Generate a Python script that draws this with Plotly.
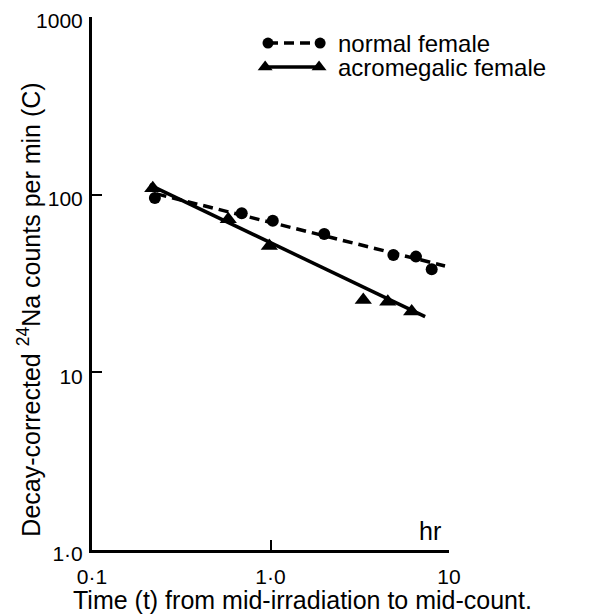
import plotly.graph_objects as go

# Data (t in hr, C in counts/min)
normal_t = [0.225, 0.69, 1.03, 2.0, 4.88, 6.53, 8.0]
normal_c = [95.7, 78.5, 71.4, 60.1, 45.8, 44.8, 38.0]
acro_t = [0.219, 0.58, 0.985, 3.31, 4.54, 6.18]
acro_c = [108.6, 72.8, 51.4, 25.5, 25.0, 22.0]

# Fitted lines (end points)
normal_fit_t = [0.23, 9.5]
normal_fit_c = [101.0, 39.7]
acro_fit_t = [0.21, 7.35]
acro_fit_c = [113.5, 20.6]

x_tickvals = [0.1, 1, 10]
x_ticktext = ["0·1", "1·0", "10"]
y_tickvals = [1, 10, 100, 1000]
y_ticktext = ["1·0", "10", "100", "1000"]

series_names = ["normal female", "acromegalic female"]

FONT = "Liberation Sans"
BLACK = "black"

fig = go.Figure()

# fitted lines
fig.add_trace(go.Scatter(x=normal_fit_t, y=normal_fit_c, mode="lines",
                         line=dict(color=BLACK, width=3.5, dash="10px,6px"),
                         showlegend=False, hoverinfo="skip"))
fig.add_trace(go.Scatter(x=acro_fit_t, y=acro_fit_c, mode="lines",
                         line=dict(color=BLACK, width=3.5),
                         showlegend=False, hoverinfo="skip"))
# data points
fig.add_trace(go.Scatter(x=normal_t, y=normal_c, mode="markers",
                         marker=dict(symbol="circle", size=12, color=BLACK),
                         name=series_names[0], showlegend=False))
fig.add_trace(go.Scatter(x=acro_t, y=acro_c, mode="markers",
                         marker=dict(symbol="triangle-up", size=15, color=BLACK),
                         name=series_names[1], showlegend=False))

# custom legend on an overlay axis spanning the plot area (0..1)
leg_y = [0.951, 0.906]
fig.add_trace(go.Scatter(x=[0.493, 0.639], y=[leg_y[0]] * 2, xaxis="x2", yaxis="y2",
                         mode="lines+markers",
                         line=dict(color=BLACK, width=3.5, dash="10px,6px"),
                         marker=dict(symbol="circle", size=11, color=BLACK),
                         showlegend=False, hoverinfo="skip"))
fig.add_trace(go.Scatter(x=[0.485, 0.636], y=[leg_y[1]] * 2, xaxis="x2", yaxis="y2",
                         mode="lines+markers",
                         line=dict(color=BLACK, width=3.5),
                         marker=dict(symbol="triangle-up", size=13, color=BLACK),
                         showlegend=False, hoverinfo="skip"))

annotations = [
    dict(text=series_names[0], x=0.683, y=leg_y[0], xref="paper", yref="paper",
         xanchor="left", yanchor="middle", showarrow=False,
         font=dict(family=FONT, size=24, color=BLACK)),
    dict(text=series_names[1], x=0.683, y=leg_y[1], xref="paper", yref="paper",
         xanchor="left", yanchor="middle", showarrow=False,
         font=dict(family=FONT, size=24, color=BLACK)),
    dict(text="hr", x=0.947, y=0.036, xref="paper", yref="paper",
         xanchor="center", yanchor="middle", showarrow=False,
         font=dict(family=FONT, size=25, color=BLACK)),
    dict(text="Time (t) from mid-irradiation to mid-count.", x=0.59, y=-0.094,
         xref="paper", yref="paper", xanchor="center", yanchor="middle",
         showarrow=False, font=dict(family=FONT, size=25, color=BLACK)),
    dict(text="Decay-corrected <sup>24</sup>Na counts per min (C)", x=-0.175, y=0.45,
         xref="paper", yref="paper", xanchor="center", yanchor="middle",
         textangle=-90, showarrow=False,
         font=dict(family=FONT, size=25, color=BLACK)),
]

axis_common = dict(type="log", showgrid=False, zeroline=False, showline=True,
                   linecolor=BLACK, linewidth=3, ticks="inside", ticklen=10,
                   tickwidth=2, tickcolor=BLACK, mirror=False, automargin=False,
                   ticklabeloverflow="allow",
                   tickfont=dict(family=FONT, size=21, color=BLACK))

# page body adds an 8px offset, so the figure is 8px smaller and margins shifted
fig.update_layout(
    width=595, height=606,
    margin=dict(l=84, r=154, t=9, b=64),
    paper_bgcolor="white", plot_bgcolor="white",
    xaxis=dict(range=[-1, 1], tickvals=x_tickvals, ticktext=x_ticktext,
               ticklabelstandoff=6, **axis_common),
    yaxis=dict(range=[0, 3], tickvals=y_tickvals, ticktext=y_ticktext,
               ticklabelstandoff=2, ticklabelshift=4, **axis_common),
    xaxis2=dict(range=[0, 1], overlaying="x", visible=False, anchor="y2"),
    yaxis2=dict(range=[0, 1], overlaying="y", visible=False, anchor="x2"),
    annotations=annotations,
    showlegend=False,
)

fig.write_html("out.html")
